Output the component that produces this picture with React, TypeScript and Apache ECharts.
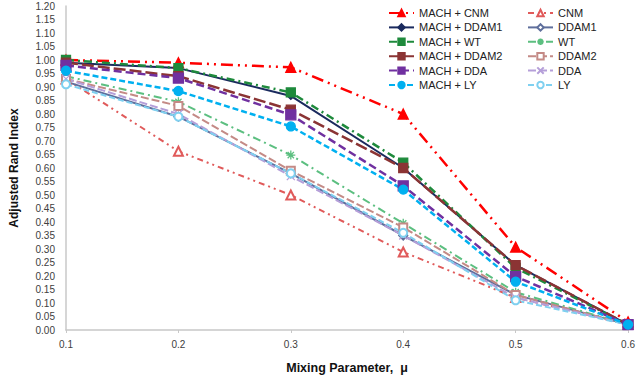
import React, { useEffect, useRef } from "react";
import * as echarts from "echarts";

const categories = ["0.1", "0.2", "0.3", "0.4", "0.5", "0.6"];
const yTicks = { min: 0, max: 1.2, step: 0.05 };

const machCNM = [1.0, 0.99, 0.973, 0.80, 0.307, 0.03];
const cnm = [0.93, 0.662, 0.50, 0.289, 0.12, 0.02];
const machDDAM1 = [0.99, 0.97, 0.867, 0.60, 0.24, 0.02];
const ddam1 = [0.92, 0.79, 0.58, 0.35, 0.13, 0.02];
const machWT = [1.0, 0.97, 0.88, 0.62, 0.23, 0.02];
const wt = [0.94, 0.845, 0.648, 0.395, 0.14, 0.02];
const machDDAM2 = [0.99, 0.94, 0.816, 0.60, 0.24, 0.02];
const ddam2 = [0.93, 0.83, 0.59, 0.38, 0.13, 0.02];
const machDDA = [0.98, 0.933, 0.797, 0.534, 0.198, 0.02];
const dda = [0.93, 0.80, 0.57, 0.35, 0.12, 0.02];
const machLY = [0.96, 0.885, 0.754, 0.52, 0.179, 0.02];
const ly = [0.91, 0.79, 0.58, 0.36, 0.11, 0.02];

const leftNames = ["MACH + CNM", "MACH + DDAM1", "MACH + WT", "MACH + DDAM2", "MACH + DDA", "MACH + LY"];
const rightNames = ["CNM", "DDAM1", "WT", "DDAM2", "DDA", "LY"];

const ASTER = "path://M5 0 L5 10 M0 5 L10 5 M1.5 1.5 L8.5 8.5 M8.5 1.5 L1.5 8.5";
const XMARK = "path://M0 0 L10 10 M10 0 L0 10";

function mk(name: string, data: number[], color: string, width: number, dash: any, symbol: string, size: number) {
  return {
    name,
    type: "line",
    data,
    symbol,
    symbolSize: size,
    showAllSymbol: true,
    lineStyle: { color, width, type: dash },
    itemStyle: { color, borderColor: color, borderWidth: 1.3 },
  };
}

export default function App() {
  const ref = useRef<HTMLDivElement>(null);
  useEffect(() => {
    if (!ref.current) return;
    const chart = echarts.init(ref.current, null, { renderer: "svg" });
    const font = "'Liberation Sans', Arial, sans-serif";
    const legendBase = {
      orient: "vertical",
      top: 1,
      itemWidth: 25,
      itemHeight: 8,
      itemGap: 0.4,
      textStyle: { fontFamily: font, fontSize: 11, color: "#222", lineHeight: 14 },
    };
    chart.setOption({
      animation: false,
      backgroundColor: "#ffffff",
      grid: { left: 62, right: 6, top: 6, bottom: 45 },
      legend: [
        { ...legendBase, left: 383, data: leftNames },
        { ...legendBase, left: 522, data: rightNames },
      ],
      xAxis: {
        type: "category",
        data: categories,
        boundaryGap: false,
        name: "Mixing Parameter,  μ",
        nameLocation: "middle",
        nameGap: 31,
        nameTextStyle: { fontFamily: font, fontSize: 12.5, fontWeight: "bold", color: "#111" },
        axisLine: { lineStyle: { color: "#c8c8c8", width: 1.5 } },
        axisTick: { show: true, length: 3, lineStyle: { color: "#c8c8c8" } },
        axisLabel: { fontFamily: font, fontSize: 10, color: "#404040", margin: 9 },
        splitLine: { show: false },
      },
      yAxis: {
        type: "value",
        min: yTicks.min,
        max: yTicks.max,
        interval: yTicks.step,
        name: "Adjusted Rand Index",
        nameLocation: "middle",
        nameGap: 46,
        nameTextStyle: { fontFamily: font, fontSize: 12, fontWeight: "bold", color: "#111" },
        axisLine: { show: true, lineStyle: { color: "#c8c8c8", width: 1.5 } },
        axisTick: { show: false },
        axisLabel: {
          fontFamily: font,
          fontSize: 10,
          color: "#404040",
          margin: 11,
          formatter: (v: number) => v.toFixed(2),
        },
        splitLine: { show: false },
      },
      series: [
        mk("CNM", cnm, "#e05a5a", 2, [6, 4, 2, 4, 2, 4], "emptyTriangle", 9),
        mk("DDAM1", ddam1, "#5f6f9c", 2, "solid", "emptyDiamond", 8),
        mk("WT", wt, "#5cbf80", 2, [8, 4, 2, 4], ASTER, 9),
        mk("DDAM2", ddam2, "#c48a86", 2, [8, 3], "emptyRect", 8),
        mk("DDA", dda, "#b59fd9", 2, [8, 3], XMARK, 8),
        mk("LY", ly, "#7fd0f0", 2, [6, 3], "emptyCircle", 8),
        mk("MACH + CNM", machCNM, "#ff0000", 2.5, [12, 5, 2, 5, 2, 5], "triangle", 10),
        mk("MACH + DDAM1", machDDAM1, "#1a2a5e", 2, "solid", "diamond", 7),
        mk("MACH + WT", machWT, "#1e8a3c", 2.5, [8, 4, 2, 4], "rect", 9),
        mk("MACH + DDAM2", machDDAM2, "#8b3434", 2.5, [12, 4], "rect", 9),
        mk("MACH + DDA", machDDA, "#7030a0", 2.5, [8, 4], "rect", 10),
        mk("MACH + LY", machLY, "#00b0f0", 2.5, [6, 3], "circle", 9),
      ],
    });
    return () => chart.dispose();
  }, []);
  return <div ref={ref} style={{ position: "absolute", left: 0, top: 0, width: 638, height: 379 }} />;
}
